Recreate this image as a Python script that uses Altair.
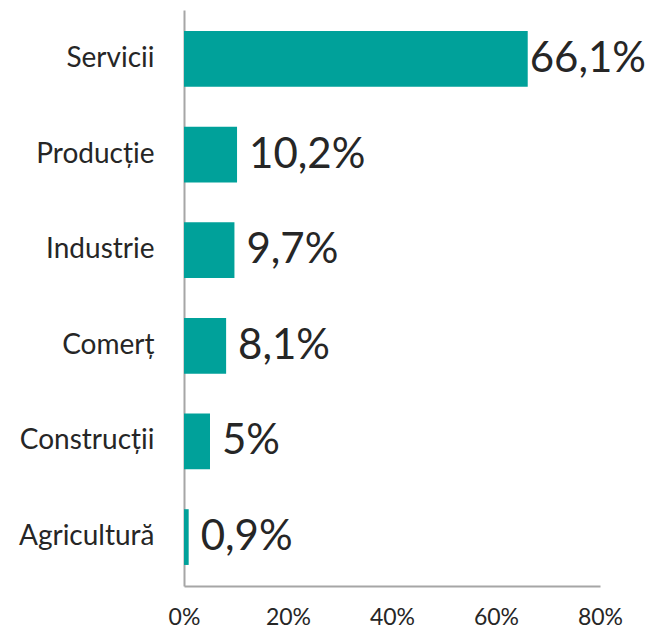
import altair as alt
import pandas as pd

categories = ["Servicii", "Producție", "Industrie", "Comerț", "Construcții", "Agricultură"]
values = [66.1, 10.2, 9.7, 8.1, 5.0, 0.9]
labels = ["66,1%", "10,2%", "9,7%", "8,1%", "5%", "0,9%"]

df = pd.DataFrame({"cat": categories, "val": values, "lab": labels})

FONT = "Lato"
TEXT = "#262626"

y = alt.Y("cat:N", sort=categories, title=None,
          scale=alt.Scale(paddingInner=0.417, paddingOuter=0.22),
          axis=alt.Axis(ticks=False, labelPadding=30, labelFontSize=28, labelFont=FONT,
                        labelColor=TEXT, domainColor="#A6A6A6", domainWidth=2))
x = alt.X("val:Q", title=None,
          scale=alt.Scale(domain=[0, 80], nice=False),
          axis=alt.Axis(values=[0, 20, 40, 60, 80], labelExpr="datum.value + '%'",
                        ticks=False, grid=False, labelPadding=20, labelFontSize=23,
                        labelFlush=False,
                        labelFont=FONT, labelColor=TEXT, domainColor="#A6A6A6",
                        domainWidth=2))

bars = alt.Chart(df).mark_bar(color="#00A19A").encode(x=x, y=y)
text = alt.Chart(df).mark_text(align="left", baseline="middle",
                               dx=alt.expr("datum.val > 50 ? 2 : 12"), fontSize=42,
                               font=FONT, color=TEXT).encode(
    x=alt.X("val:Q"), y=alt.Y("cat:N", sort=categories), text="lab:N")

chart = (bars + text).properties(
    width=416, height=576,
    autosize=alt.AutoSizeParams(type="none"),
    padding={"left": 176, "top": 2, "right": 46, "bottom": 46},
).configure_view(stroke=None)

chart.save("out.html", embed_options={"renderer": "svg", "actions": False})
